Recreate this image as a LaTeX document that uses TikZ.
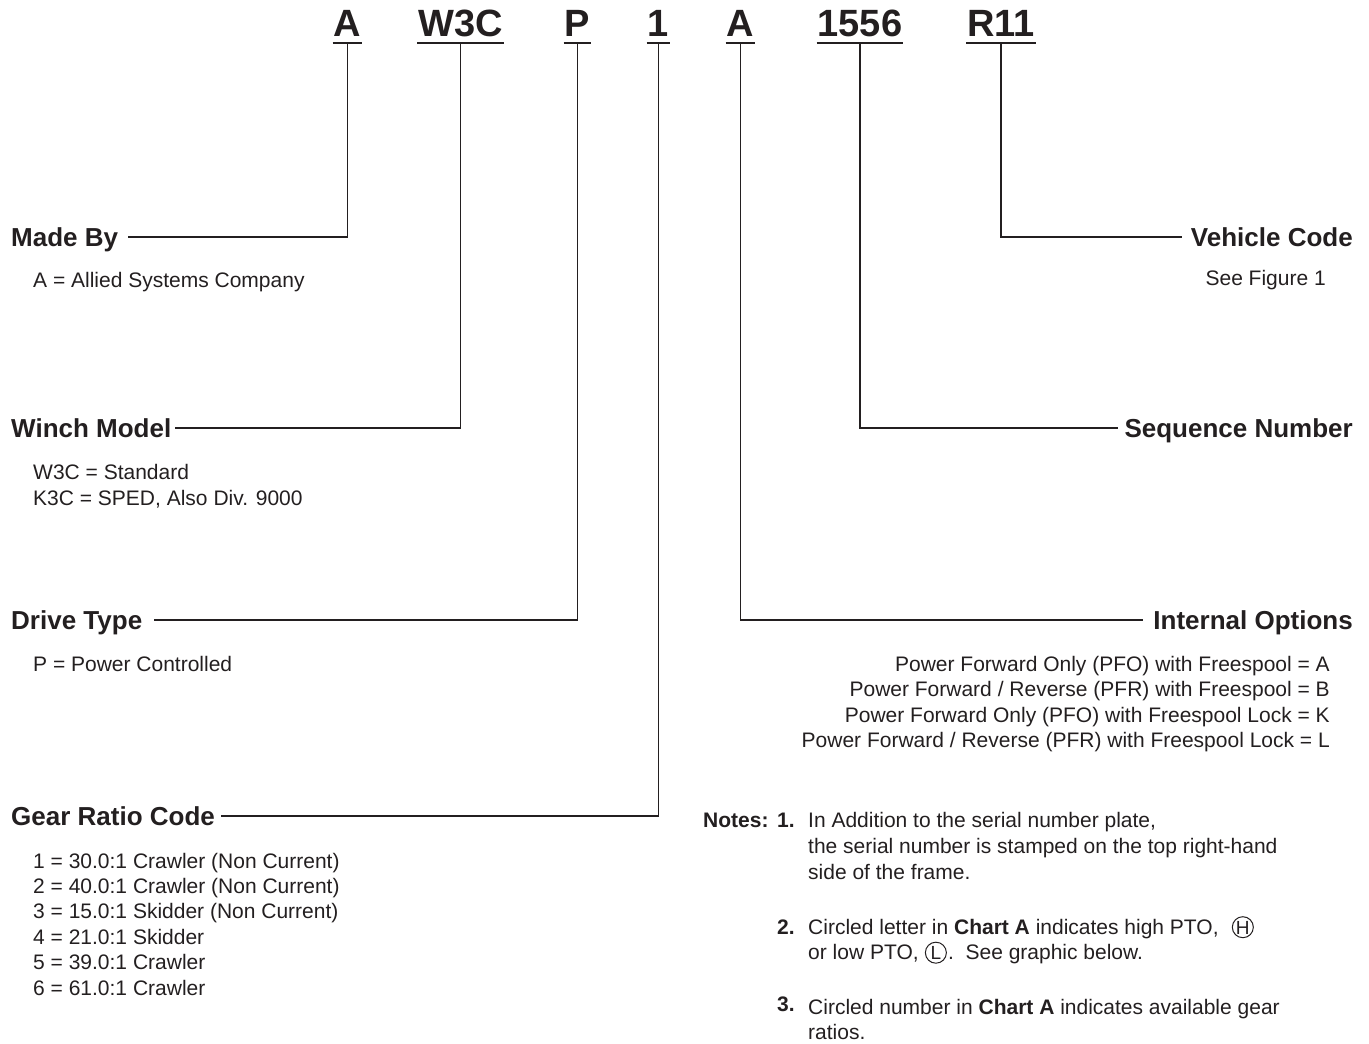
\documentclass[tikz,border=0pt]{standalone}
\usepackage{fontspec}
\setmainfont{Liberation Sans}
\definecolor{ink}{RGB}{35,31,32}
\begin{document}
\begin{tikzpicture}[x=1pt,y=-1pt,
  every node/.style={text=ink, inner sep=0pt},
  code/.style={font=\fontsize{38}{38}\bfseries\selectfont, anchor=base, inner xsep=1pt, inner ysep=0pt, text height=27pt, text depth=7pt},
  head/.style={font=\fontsize{26}{26}\bfseries\selectfont, text height=18.6pt, text depth=0pt},
  body/.style={font=\fontsize{21}{25.4}\selectfont},
  note/.style={font=\fontsize{21}{25.4}\selectfont, anchor=base west},
  circ/.style={font=\fontsize{19}{19}\selectfont, text height=13.6pt, text depth=0pt},
  ring/.style={draw=ink, line width=1pt},
  conn/.style={draw=ink, line width=1.9pt}]
\useasboundingbox (0,0) rectangle (1369,1044);
% top code
\node[code] (cA) at (347.5,36) {A};
\node[code] (cW) at (460.5,36) {W3C};
\node[code] (cP) at (577.5,36) {P};
\node[code] (cG) at (658.5,36) {1};
\node[code] (cI) at (740.5,36) {A};
\node[code] (cS) at (860,36) {1556};
\node[code] (cV) at (1001,36) {R11};
\foreach \n in {cA,cW,cP,cG,cI,cS,cV}
  \draw[conn] (\n.south west) -- (\n.south east);
% left headings
\node[head, anchor=base west] (made) at (11,246.3) {Made By};
\node[head, anchor=base west] (winch) at (11,437.3) {Winch Model};
\node[head, anchor=base west] (drive) at (11,629.3) {Drive Type};
\node[head, anchor=base west] (gear) at (11,825.3) {Gear Ratio Code};
\draw[conn] (cA.south) |- ([xshift=10pt]made.east);
\draw[conn] (cW.south) |- ([xshift=4pt]winch.east);
\draw[conn] (cP.south) |- ([xshift=12pt]drive.east);
\draw[conn] (cG.south) |- ([xshift=6pt]gear.east);
% left bodies
\node[body, anchor=base west] (madeA) at (33,287) {A = Allied Systems Company};
\node[body, anchor=base west] (w1) at (33,479.5) {W3C = Standard};
\node[body, anchor=base west] (w2) at (33,505) {K3C = SPED, Also Div. 9000};
\node[body, anchor=base west] (d1) at (33,671) {P = Power Controlled};
\node[body, anchor=base west] (g1) at (33,868) {1 = 30.0:1 Crawler (Non Current)};
\node[body, anchor=base west] (g2) at (33,893.4) {2 = 40.0:1 Crawler (Non Current)};
\node[body, anchor=base west] (g3) at (33,918.8) {3 = 15.0:1 Skidder (Non Current)};
\node[body, anchor=base west] (g4) at (33,944.2) {4 = 21.0:1 Skidder};
\node[body, anchor=base west] (g5) at (33,969.6) {5 = 39.0:1 Crawler};
\node[body, anchor=base west] (g6) at (33,995) {6 = 61.0:1 Crawler};
% right headings
\node[head, anchor=base east] (veh) at (1353,246.3) {Vehicle Code};
\node[head, anchor=base east] (seq) at (1353,437.3) {Sequence Number};
\node[head, anchor=base east] (intl) at (1353,629.3) {Internal Options};
\draw[conn] (cV.south) |- ([xshift=-9pt]veh.west);
\draw[conn] (cS.south) |- ([xshift=-6pt]seq.west);
\draw[conn] (cI.south) |- ([xshift=-10pt]intl.west);
% right bodies
\node[body, anchor=base east] (fig) at (1326,285) {See Figure 1};
\node[body, anchor=base east] (o1) at (1330,671) {Power Forward Only (PFO) with Freespool = A};
\node[body, anchor=base east] (o2) at (1330,696.5) {Power Forward / Reverse (PFR) with Freespool = B};
\node[body, anchor=base east] (o3) at (1330,722) {Power Forward Only (PFO) with Freespool Lock = K};
\node[body, anchor=base east] (o4) at (1330,747.5) {Power Forward / Reverse (PFR) with Freespool Lock = L};
% notes
\node[note] (notes) at (703,827) {\bfseries Notes:};
\node[note] (n1) at (777,827) {\bfseries 1.};
\node[note] (n1a) at (808,827) {In Addition to the serial number plate,};
\node[note] (n1b) at (808,853) {the serial number is stamped on the top right-hand};
\node[note] (n1c) at (808,879) {side of the frame.};
\node[note] (n2) at (777,934) {\bfseries 2.};
\node[note] (n2a) at (808,934) {Circled letter in \textbf{Chart A} indicates high PTO,};
\node[circ] (cH) at ([xshift=24pt,yshift=6.8pt]n2a.base east) {H};
\draw[ring] (cH.center) circle[radius=10.5pt];
\node[note] (n2b) at (808,959.5) {or low PTO,};
\node[circ] (cL) at ([xshift=17pt,yshift=6.8pt]n2b.base east) {L};
\draw[ring] (cL.center) circle[radius=10.5pt];
\node[note] (n2c) at ([xshift=12pt,yshift=-6.8pt]cL.center) {.\ \ See graphic below.};
\node[note] (n3) at (777,1011) {\bfseries 3.};
\node[note] (n3a) at (808,1014) {Circled number in \textbf{Chart A} indicates available gear};
\node[note] (n3b) at (808,1039.5) {ratios.};
\end{tikzpicture}
\end{document}
